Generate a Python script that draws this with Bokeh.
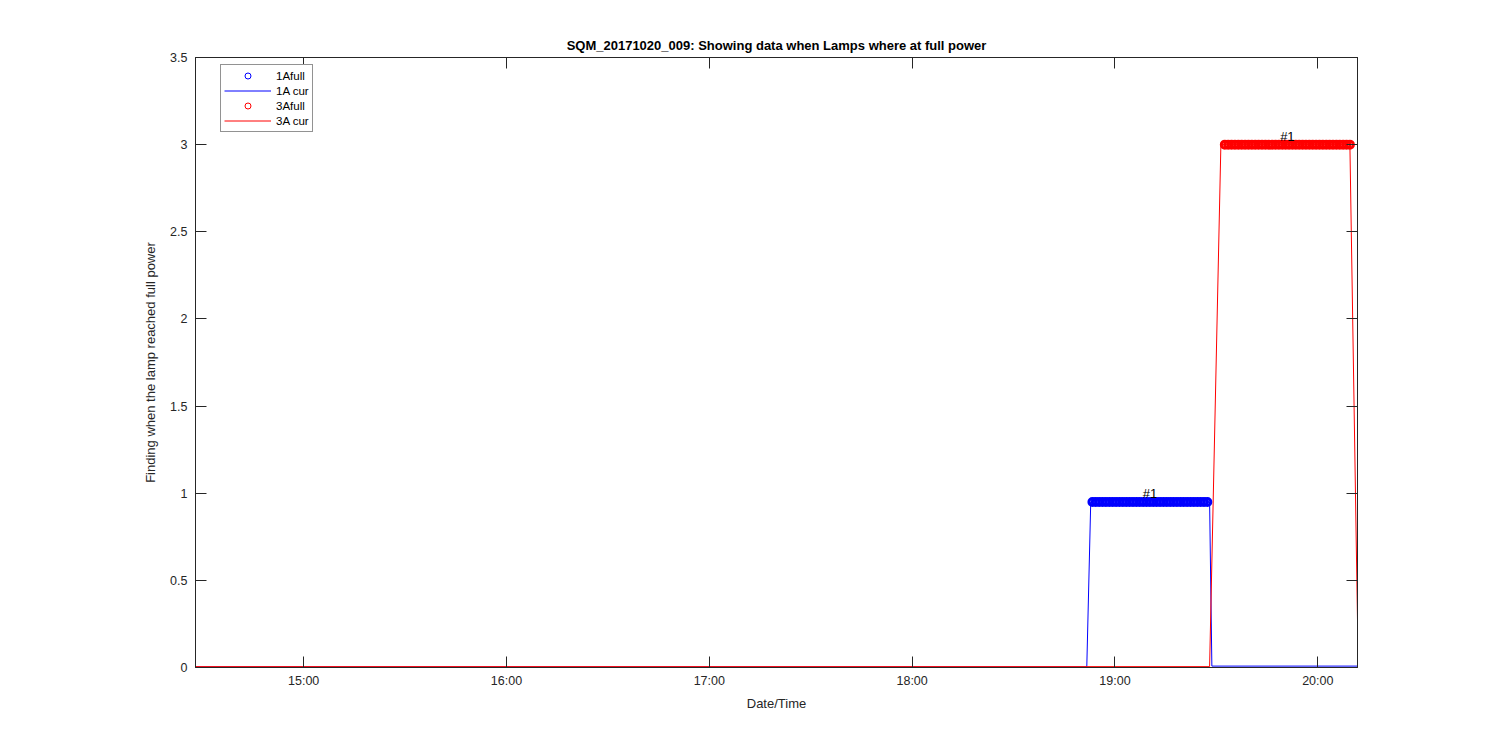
import pandas as pd
from bokeh.plotting import figure
from bokeh.models import (ColumnDataSource, Range1d, FixedTicker, LinearAxis,
                          DatetimeTickFormatter, Legend)
from bokeh.core.properties import value
from bokeh.embed import file_html
from bokeh.resources import INLINE

DATE = "2017-10-20"

# ---------------- data ----------------
x_tick_labels = ["15:00", "16:00", "17:00", "18:00", "19:00", "20:00"]
y_tick_values = [0, 0.5, 1, 1.5, 2, 2.5, 3, 3.5]
y_tick_labels = ["0", "0.5", "1", "1.5", "2", "2.5", "3", "3.5"]
x_start, x_end = "14:28:00", "20:11:45"

# 1A current (line)
cur1_time = ["14:28:00", "18:51:40", "18:52:50", "19:28:00", "19:28:40", "20:11:45"]
cur1_val = [0.003, 0.003, 0.95, 0.95, 0.008, 0.008]

# 3A current (line)
cur3_time = ["14:28:00", "19:28:00", "19:31:20", "20:09:30", "20:11:45"]
cur3_val = [0.005, 0.005, 3.0, 3.0, 0.27]

# 1A full power samples (markers)
full1_time = ["18:53:20", "18:54:20", "18:55:20", "18:56:20", "18:57:20", "18:58:20",
              "18:59:20", "19:00:20", "19:01:20", "19:02:20", "19:03:20", "19:04:20",
              "19:05:20", "19:06:20", "19:07:20", "19:08:20", "19:09:20", "19:10:20",
              "19:11:20", "19:12:20", "19:13:20", "19:14:20", "19:15:20", "19:16:20",
              "19:17:20", "19:18:20", "19:19:20", "19:20:20", "19:21:20", "19:22:20",
              "19:23:20", "19:24:20", "19:25:20", "19:26:20", "19:27:20"]
full1_val = [0.95] * len(full1_time)

# 3A full power samples (markers)
full3_time = ["19:32:30", "19:33:30", "19:34:30", "19:35:30", "19:36:30", "19:37:30",
              "19:38:30", "19:39:30", "19:40:30", "19:41:30", "19:42:30", "19:43:30",
              "19:44:30", "19:45:30", "19:46:30", "19:47:30", "19:48:30", "19:49:30",
              "19:50:30", "19:51:30", "19:52:30", "19:53:30", "19:54:30", "19:55:30",
              "19:56:30", "19:57:30", "19:58:30", "19:59:30", "20:00:30", "20:01:30",
              "20:02:30", "20:03:30", "20:04:30", "20:05:30", "20:06:30", "20:07:30",
              "20:08:30", "20:09:30"]
full3_val = [3.0] * len(full3_time)

segment_labels = ["#1", "#1"]


def ts(lst):
    return pd.to_datetime([DATE + " " + t for t in lst])


def ms(t):
    return pd.Timestamp(DATE + " " + t).value // 10**6


# ---------------- styling ----------------
FONT = "Liberation Sans"
AX = "#262626"
BLUE = "#0000ff"
RED = "#ff0000"

p = figure(width=1484, height=734, output_backend="svg", toolbar_location=None,
           x_range=Range1d(ms(x_start), ms(x_end)), y_range=Range1d(0, 3.5),
           min_border_left=195, min_border_right=127, min_border_top=57,
           min_border_bottom=67, x_axis_type="datetime",
           background_fill_color="white", border_fill_color="white")

p.xgrid.visible = False
p.ygrid.visible = False
p.outline_line_color = AX
p.outline_line_width = 1

xticker = FixedTicker(ticks=[ms(t) for t in x_tick_labels])
yticker = FixedTicker(ticks=y_tick_values)

xa = p.xaxis[0]
xa.ticker = xticker
xa.formatter = DatetimeTickFormatter(hours="%H:%M", hourmin="%H:%M", minutes="%H:%M",
                                     minsec="%H:%M", days="%H:%M")
ya = p.yaxis[0]
ya.ticker = yticker
ya.major_label_overrides = {v: l for v, l in zip(y_tick_values, y_tick_labels)}

for ax in (xa, ya):
    ax.major_tick_in = 11
    ax.major_tick_out = 0
    ax.minor_tick_line_color = None
    ax.axis_line_color = AX
    ax.major_tick_line_color = AX
    ax.major_label_text_font = FONT
    ax.major_label_text_font_size = "12.5px"
    ax.major_label_text_color = AX
    ax.axis_label_text_font = FONT
    ax.axis_label_text_font_size = "13px"
    ax.axis_label_text_font_style = "normal"
    ax.axis_label_text_color = AX

xa.axis_label = "Date/Time"
xa.major_label_standoff = 6
xa.axis_label_standoff = 5
ya.axis_label = "Finding when the lamp reached full power"
ya.major_label_standoff = 8
ya.axis_label_standoff = 9

top = LinearAxis(ticker=xticker, major_label_text_color=None,
                 major_tick_in=11, major_tick_out=0, minor_tick_line_color=None,
                 axis_line_color=AX, major_tick_line_color=AX)
right = LinearAxis(ticker=yticker, major_label_text_color=None,
                   major_tick_in=11, major_tick_out=0, minor_tick_line_color=None,
                   axis_line_color=AX, major_tick_line_color=AX)
p.add_layout(top, "above")
p.add_layout(right, "right")

p.title.text = "SQM_20171020_009: Showing data when Lamps where at full power"
p.title.align = "center"
p.title.text_font = FONT
p.title.text_font_size = "13px"
p.title.text_font_style = "bold"
p.title.text_color = "#000000"

# ---------------- glyphs ----------------
s_full1 = ColumnDataSource(dict(x=ts(full1_time), y=full1_val))
s_cur1 = ColumnDataSource(dict(x=ts(cur1_time), y=cur1_val))
s_full3 = ColumnDataSource(dict(x=ts(full3_time), y=full3_val))
s_cur3 = ColumnDataSource(dict(x=ts(cur3_time), y=cur3_val))

p.scatter("x", "y", source=s_full1, marker="circle", size=7, fill_color=None,
          line_color=BLUE, line_width=3)
r2 = p.line("x", "y", source=s_cur1, line_color=BLUE, line_width=1)
p.scatter("x", "y", source=s_full3, marker="circle", size=7, fill_color=None,
          line_color=RED, line_width=3)
r4 = p.line("x", "y", source=s_cur3, line_color=RED, line_width=1)

# thin-outlined, hidden copies used only for the legend swatches
r1 = p.scatter("x", "y", source=s_full1, marker="circle", size=9, fill_color=None,
               line_color=BLUE, line_width=1, visible=False)
r3 = p.scatter("x", "y", source=s_full3, marker="circle", size=9, fill_color=None,
               line_color=RED, line_width=1, visible=False)

f1 = ts(full1_time)
f3 = ts(full3_time)
lbl_x = [f1.min() + (f1.max() - f1.min()) / 2, f3.min() + (f3.max() - f3.min()) / 2]
lbl_y = [full1_val[0], full3_val[0]]
s_lbl = ColumnDataSource(dict(x=lbl_x, y=lbl_y, t=segment_labels))
p.text("x", "y", text="t", source=s_lbl, text_font=value(FONT), text_font_size="13px",
       text_color="#000000", text_align="center", text_baseline="bottom", y_offset=-1)

legend = Legend(items=[("1Afull", [r1]), ("1A cur", [r2]), ("3Afull", [r3]), ("3A cur", [r4])],
                location=(25, 535), glyph_width=47, glyph_height=15, label_height=15,
                spacing=0, padding=3, margin=0, label_standoff=5,
                label_text_font=FONT, label_text_font_size="11.5px", label_text_color="#000000",
                border_line_color=AX, border_line_width=1, background_fill_color="white",
                background_fill_alpha=1)
p.add_layout(legend)

open("out.html", "w").write(file_html(p, INLINE))
